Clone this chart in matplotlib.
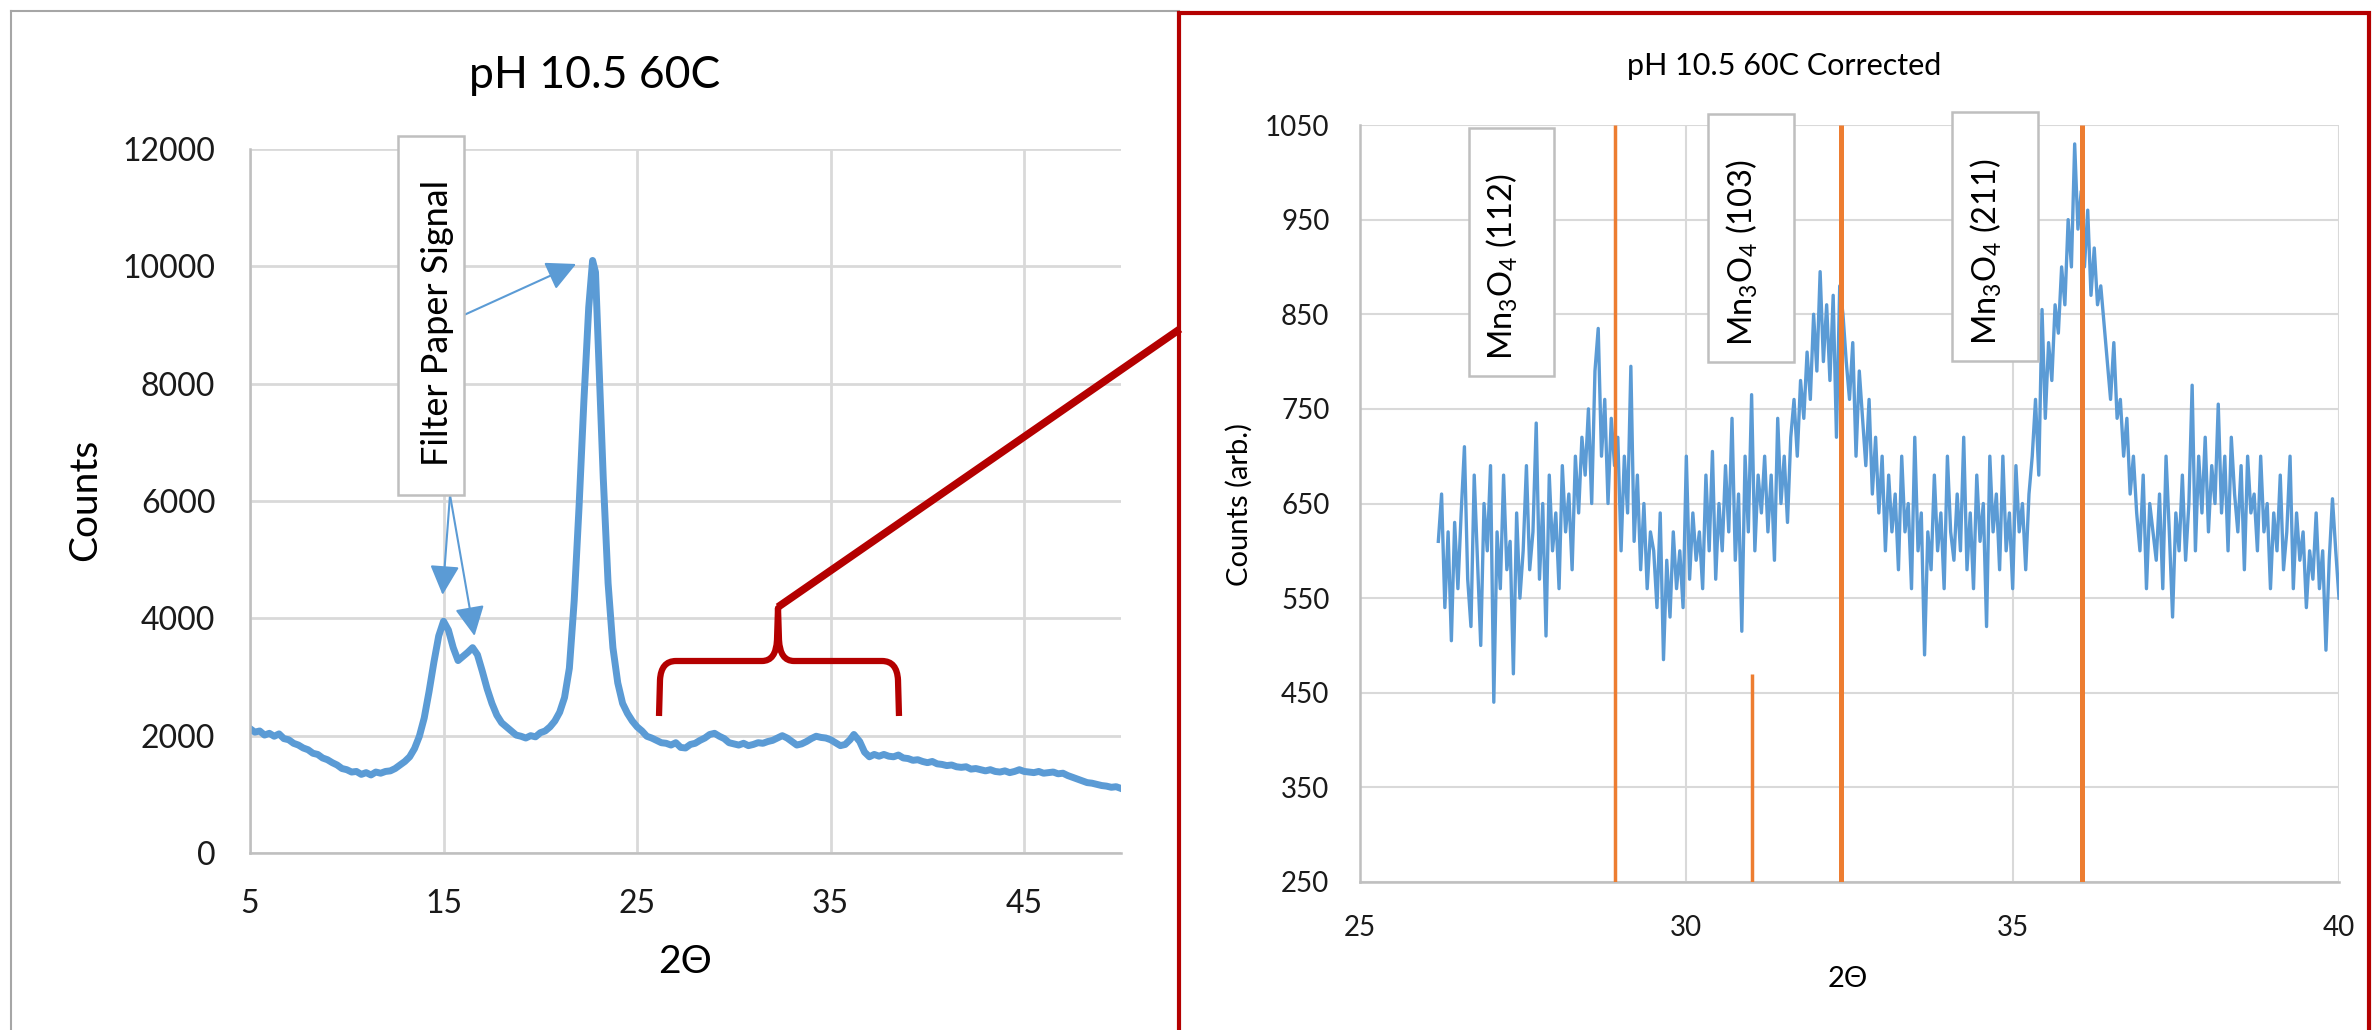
import numpy as np
import matplotlib
matplotlib.use("Agg")
import matplotlib.pyplot as plt
from matplotlib.patches import Rectangle, PathPatch
from matplotlib.path import Path
from matplotlib.lines import Line2D

plt.rcParams['font.family'] = ['Lato', 'DejaVu Sans']
plt.rcParams['mathtext.fontset'] = 'custom'
plt.rcParams['mathtext.rm'] = 'Lato'

# full scan
theta_wide = [5.0, 5.25, 5.5, 5.75, 6.0, 6.25, 6.5, 6.75, 7.0, 7.25, 7.5, 7.75, 8.0, 8.25, 8.5,
              8.75, 9.0, 9.25, 9.5, 9.75, 10.0, 10.25, 10.5, 10.75, 11.0, 11.25, 11.5, 11.75,
              12.0, 12.25, 12.5, 12.75, 13.0, 13.25, 13.5, 13.75, 14.0, 14.25, 14.5, 14.75,
              15.0, 15.25, 15.5, 15.75, 16.0, 16.25, 16.5, 16.75, 17.0, 17.25, 17.5, 17.75,
              18.0, 18.25, 18.5, 18.75, 19.0, 19.25, 19.5, 19.75, 20.0, 20.25, 20.5, 20.75,
              21.0, 21.25, 21.5, 21.75, 22.0, 22.25, 22.5, 22.7, 22.85, 23.0, 23.25, 23.5,
              23.75, 24.0, 24.25, 24.5, 24.75, 25.0, 25.25, 25.5, 25.75, 26.0, 26.25, 26.5,
              26.75, 27.0, 27.25, 27.5, 27.75, 28.0, 28.25, 28.5, 28.75, 29.0, 29.25, 29.5,
              29.75, 30.0, 30.25, 30.5, 30.75, 31.0, 31.25, 31.5, 31.75, 32.0, 32.25, 32.5,
              32.75, 33.0, 33.25, 33.5, 33.75, 34.0, 34.25, 34.5, 34.75, 35.0, 35.25, 35.5,
              35.75, 36.0, 36.2, 36.5, 36.75, 37.0, 37.25, 37.5, 37.75, 38.0, 38.25, 38.5,
              38.75, 39.0, 39.25, 39.5, 39.75, 40.0, 40.25, 40.5, 40.75, 41.0, 41.25, 41.5,
              41.75, 42.0, 42.25, 42.5, 42.75, 43.0, 43.25, 43.5, 43.75, 44.0, 44.25, 44.5,
              44.75, 45.0, 45.25, 45.5, 45.75, 46.0, 46.25, 46.5, 46.75, 47.0, 47.25, 47.5,
              47.75, 48.0, 48.25, 48.5, 48.75, 49.0, 49.25, 49.5, 49.75, 50.0]
counts_wide = [2120, 2060, 2080, 2010, 2040, 1990, 2030, 1950, 1930, 1870, 1840, 1790, 1760, 1700, 1680,
               1620, 1590, 1540, 1500, 1440, 1420, 1380, 1390, 1340, 1370, 1330, 1380, 1360,
               1390, 1400, 1440, 1500, 1560, 1640, 1780, 1990, 2300, 2750, 3250, 3700,
               3950, 3800, 3500, 3280, 3350, 3420, 3500, 3380, 3100, 2800, 2550, 2350,
               2220, 2150, 2080, 2010, 1990, 1960, 2000, 1980, 2050, 2080, 2150, 2250,
               2400, 2650, 3150, 4300, 5900, 7700, 9300, 10100, 9900, 8600, 6400, 4600,
               3500, 2900, 2550, 2380, 2250, 2150, 2080, 1990, 1960, 1920, 1880, 1870,
               1840, 1880, 1800, 1790, 1850, 1870, 1920, 1960, 2020, 2040, 1990, 1950,
               1880, 1860, 1840, 1870, 1830, 1850, 1880, 1870, 1900, 1920, 1960, 2000,
               1960, 1900, 1840, 1860, 1900, 1950, 1990, 1970, 1960, 1930, 1880, 1830,
               1850, 1930, 2020, 1900, 1720, 1640, 1680, 1650, 1680, 1650, 1640, 1670,
               1620, 1610, 1580, 1590, 1560, 1540, 1560, 1520, 1510, 1490, 1500, 1470,
               1460, 1470, 1430, 1440, 1420, 1400, 1420, 1390, 1380, 1400, 1370, 1390,
               1420, 1390, 1380, 1370, 1390, 1360, 1370, 1380, 1350, 1360, 1320, 1290,
               1260, 1230, 1200, 1190, 1170, 1150, 1140, 1120, 1130, 1100]

# corrected zoom, 0.05 deg steps from 26.2
zoom_start, zoom_step = 26.2, 0.05
counts_zoom = [
    610, 660, 540, 620, 505, 630, 560, 640, 710, 570,
    520, 680, 590, 500, 650, 600, 690, 440, 620, 560,
    680, 580, 610, 470, 640, 550, 600, 690, 580, 620,
    735, 570, 650, 510, 680, 600, 640, 560, 690, 620,
    660, 580, 700, 640, 720, 680, 750, 650, 790, 835,
    700, 760, 650, 740, 690, 720, 600, 700, 640, 795,
    610, 680, 580, 650, 560, 620, 600, 540, 640, 485,
    590, 530, 620, 560, 600, 540, 700, 570, 640, 590,
    620, 560, 680, 600, 705, 570, 650, 600, 690, 620,
    740, 590, 660, 515, 700, 620, 765, 600, 680, 640,
    700, 620, 680, 590, 740, 650, 700, 630, 720, 760,
    700, 780, 740, 810, 760, 850, 790, 895, 800, 860,
    780, 870, 720, 880, 850, 800, 760, 820, 700, 790,
    740, 690, 760, 660, 720, 640, 700, 600, 680, 620,
    660, 580, 700, 620, 650, 560, 720, 600, 640, 490,
    620, 580, 680, 600, 640, 560, 700, 620, 590, 660,
    600, 720, 580, 640, 560, 680, 610, 650, 520, 700,
    620, 660, 580, 700, 600, 640, 560, 690, 620, 650,
    580, 660, 700, 760, 680, 855, 740, 820, 780, 860,
    830, 900, 860, 950, 900, 1030, 940, 980, 900, 960,
    870, 920, 860, 880, 840, 800, 760, 820, 740, 760,
    700, 740, 660, 700, 640, 600, 680, 560, 650, 620,
    590, 660, 560, 700, 620, 530, 640, 600, 680, 590,
    650, 775, 600, 700, 640, 720, 620, 690, 650, 755,
    640, 700, 600, 720, 660, 620, 690, 580, 700, 640,
    660, 600, 700, 620, 650, 560, 640, 600, 680, 580,
    620, 700, 560, 640, 590, 620, 540, 600, 570, 640,
    560, 600, 495, 590, 655, 600, 550]
theta_zoom = zoom_start + zoom_step * np.arange(len(counts_zoom))

# Mn3O4 reference lines
ref_pos = [28.9, 31.0, 32.37, 36.06]
ref_top = [1050, 470, 1050, 1050]
ref_lw = [2.5, 2.5, 3.6, 3.6]

blue = '#5b9bd5'
orange = '#ed7d31'
red = '#b40000'

W, H = 2374, 1030
fig = plt.figure(figsize=(W / 100, H / 100), dpi=100)


def fx(px):
    return px / W


def fy(py):
    return 1 - py / H


def fpt(px, py):
    return (fx(px), fy(py))


def style(ax, grid_lw, tick_size, xpad, ypad):
    for s in ['top', 'right']:
        ax.spines[s].set_visible(False)
    for s in ['left', 'bottom']:
        ax.spines[s].set_color('#bfbfbf')
        ax.spines[s].set_linewidth(1.8)
    ax.grid(True, color='#d9d9d9', lw=grid_lw)
    ax.set_axisbelow(True)
    ax.tick_params(length=0, labelsize=tick_size, colors='#1a1a1a')
    ax.tick_params(axis='x', pad=xpad)
    ax.tick_params(axis='y', pad=ypad)


# left panel
ax1 = fig.add_axes([fx(250), fy(853), fx(1121) - fx(250), fy(149) - fy(853)])
ax1.plot(theta_wide, counts_wide, color=blue, lw=5.0, solid_joinstyle='round')
ax1.set_xlim(5, 50)
ax1.set_ylim(0, 12000)
ax1.set_xticks([5, 15, 25, 35, 45])
ax1.set_yticks(np.arange(0, 12001, 2000))
style(ax1, 2.0, 23, 26, 25)

fig.text(fx(595), fy(88), 'pH 10.5 60C', ha='center', va='baseline', fontsize=32)
fig.text(fx(85), fy(500), 'Counts', rotation=90, ha='center', va='center', fontsize=28)
fig.text(fx(685), fy(962), '2Θ', ha='center', va='center', fontsize=28)

# filter paper label and arrows
fig.add_artist(Rectangle(fpt(398, 495), fx(464) - fx(398), fy(136) - fy(495),
                         transform=fig.transFigure, facecolor='white', edgecolor='#bfbfbf', lw=1.8, zorder=3))
fig.text(fx(438), fy(323), 'Filter Paper Signal', rotation=90, ha='center', va='center', fontsize=26, zorder=4)
arrow_style = dict(arrowstyle='-|>,head_length=0.7,head_width=0.35', color=blue, lw=1.5,
                   shrinkA=0, shrinkB=0, mutation_scale=26)
ax1.annotate('', xy=(21.85, 10040), xytext=fpt(464, 315), textcoords='figure fraction', arrowprops=arrow_style)
ax1.annotate('', xy=(14.95, 4400), xytext=fpt(450, 495), textcoords='figure fraction', arrowprops=arrow_style)
ax1.annotate('', xy=(16.6, 3700), xytext=fpt(450, 495), textcoords='figure fraction', arrowprops=arrow_style)

# right panel
ax2 = fig.add_axes([fx(1360), fy(882), fx(2339) - fx(1360), fy(125) - fy(882)])
ax2.plot(theta_zoom, counts_zoom, color=blue, lw=2.4)
for p, t, w in zip(ref_pos, ref_top, ref_lw):
    ax2.vlines(p, 250, t, color=orange, lw=w, zorder=3)
ax2.set_xlim(25, 40)
ax2.set_ylim(250, 1050)
ax2.set_xticks([25, 30, 35, 40])
ax2.set_yticks(np.arange(250, 1051, 100))
style(ax2, 1.5, 20, 24, 22)

fig.text(fx(1784), fy(75), 'pH 10.5 60C Corrected', ha='center', va='baseline', fontsize=22)
fig.text(fx(1239), fy(504), 'Counts (arb.)', rotation=90, ha='center', va='center', fontsize=21)
fig.text(fx(1848), fy(979), '2Θ', ha='center', va='center', fontsize=21)

boxes = [(1469, 128, 1554, 376, '(112)'), (1708, 114, 1794, 362, '(103)'), (1952, 112, 2038, 361, '(211)')]
for x0, y0, x1, y1, hkl in boxes:
    fig.add_artist(Rectangle(fpt(x0, y1), fx(x1) - fx(x0), fy(y0) - fy(y1),
                             transform=fig.transFigure, facecolor='white', edgecolor='#bfbfbf', lw=1.8, zorder=3))
    fig.text(fx((x0 + x1) / 2 - 9), fy((y0 + y1) / 2 + 15),
             r'Mn$_\mathregular{3}$O$_\mathregular{4}$ ' + hkl,
             rotation=90, ha='center', va='center', fontsize=23.5, zorder=4)

# outer frames
grey = '#a6a6a6'
fig.add_artist(Line2D([fx(11), fx(1179)], [fy(11), fy(11)], transform=fig.transFigure, color=grey, lw=1.5))
fig.add_artist(Line2D([fx(11), fx(11)], [fy(11), fy(1030)], transform=fig.transFigure, color=grey, lw=1.5))
fig.add_artist(Line2D([fx(1179), fx(1179), fx(2369), fx(2369)], [fy(1030), fy(13), fy(13), fy(1030)],
                      transform=fig.transFigure, color=red, lw=3.0, solid_joinstyle='miter'))

# brace and connector
brace_pts = [(659, 716), (660, 680), (661, 661), (676, 661), (762, 661), (776, 661), (777, 640), (778, 608),
             (779, 640), (780, 661), (794, 661), (882, 661), (897, 661), (898, 680), (899, 716)]
codes = [Path.MOVETO, Path.LINETO, Path.CURVE3, Path.CURVE3, Path.LINETO, Path.CURVE3, Path.CURVE3, Path.LINETO,
         Path.LINETO, Path.CURVE3, Path.CURVE3, Path.LINETO, Path.CURVE3, Path.CURVE3, Path.LINETO]
brace = Path([fpt(x, y) for x, y in brace_pts], codes)
fig.add_artist(PathPatch(brace, transform=fig.transFigure, fill=False, edgecolor=red, lw=4.5,
                         capstyle='butt', joinstyle='round', zorder=5))
fig.add_artist(Line2D([fx(778), fx(1180)], [fy(607), fy(329)], transform=fig.transFigure,
                      color=red, lw=5.5, solid_capstyle='butt', zorder=5))

fig.savefig('out.png', dpi=100, facecolor='white')
